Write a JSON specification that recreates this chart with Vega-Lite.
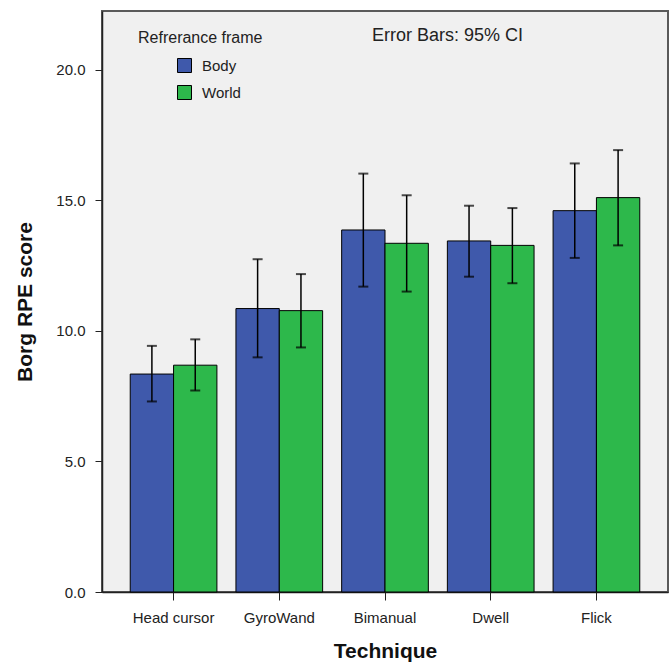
{
  "$schema": "https://vega.github.io/schema/vega-lite/v6.json",
  "width": 566,
  "height": 581,
  "autosize": "none",
  "padding": {"left": 102, "top": 11, "right": 3, "bottom": 71},
  "background": "white",
  "config": {
    "font": "Liberation Sans",
    "view": {"fill": "#f0f0f0", "stroke": "#5a5a5a", "strokeWidth": 2}
  },
  "title": {
    "text": "Error Bars: 95% CI",
    "orient": "top",
    "anchor": "start",
    "frame": "group",
    "dx": 270,
    "dy": 38,
    "fontSize": 18,
    "fontWeight": "normal",
    "color": "#222",
    "font": "Liberation Sans"
  },
  "data": {
    "values": [
      {"technique": "Head cursor", "frame": "Body", "mean": 8.35, "lo": 7.3, "hi": 9.43},
      {"technique": "Head cursor", "frame": "World", "mean": 8.69, "lo": 7.72, "hi": 9.68},
      {"technique": "GyroWand", "frame": "Body", "mean": 10.86, "lo": 8.99, "hi": 12.75},
      {"technique": "GyroWand", "frame": "World", "mean": 10.78, "lo": 9.37, "hi": 12.18},
      {"technique": "Bimanual", "frame": "Body", "mean": 13.87, "lo": 11.7, "hi": 16.03},
      {"technique": "Bimanual", "frame": "World", "mean": 13.36, "lo": 11.51, "hi": 15.2},
      {"technique": "Dwell", "frame": "Body", "mean": 13.45, "lo": 12.08, "hi": 14.8},
      {"technique": "Dwell", "frame": "World", "mean": 13.28, "lo": 11.83, "hi": 14.71},
      {"technique": "Flick", "frame": "Body", "mean": 14.61, "lo": 12.8, "hi": 16.42},
      {"technique": "Flick", "frame": "World", "mean": 15.11, "lo": 13.28, "hi": 16.93}
    ]
  },
  "encoding": {
    "x": {
      "field": "technique",
      "type": "nominal",
      "sort": ["Head cursor", "GyroWand", "Bimanual", "Dwell", "Flick"],
      "scale": {"paddingInner": 0.18, "paddingOuter": 0.267},
      "axis": {
        "title": "Technique",
        "labelAngle": 0,
        "tickSize": 8,
        "tickColor": "#222",
        "domainColor": "#222",
        "domainWidth": 1.5,
        "labelPadding": 10,
        "labelFontSize": 15,
        "labelColor": "#222",
        "titleFontSize": 21,
        "titleFontWeight": "bold",
        "titleColor": "#111",
        "titlePadding": 15
      }
    },
    "xOffset": {
      "field": "frame",
      "type": "nominal",
      "sort": ["Body", "World"],
      "scale": {"paddingInner": 0, "paddingOuter": 0}
    }
  },
  "layer": [
    {
      "mark": {"type": "bar", "stroke": "black", "strokeWidth": 1},
      "encoding": {
        "y": {
          "field": "mean",
          "type": "quantitative",
          "title": "Borg RPE score",
          "scale": {"domain": [0, 22.26], "nice": false, "zero": true},
          "axis": {
            "values": [0, 5, 10, 15, 20],
            "format": ".1f",
            "grid": false,
            "tickSize": 7,
            "tickColor": "#222",
            "domainColor": "#222",
            "domainWidth": 1.5,
            "labelFontSize": 15,
            "labelColor": "#222",
            "labelPadding": 10,
            "titleFontSize": 21,
            "titleFontWeight": "bold",
            "titleColor": "#111",
            "titlePadding": 20
          }
        },
        "color": {
          "field": "frame",
          "type": "nominal",
          "scale": {"domain": ["Body", "World"], "range": ["#3F59AB", "#2DB84B"]},
          "legend": {
            "title": "Refrerance frame",
            "orient": "none",
            "legendX": 36,
            "legendY": 19,
            "symbolType": "square",
            "symbolSize": 196,
            "symbolStrokeColor": "black",
            "symbolStrokeWidth": 1,
            "symbolOffset": 39,
            "labelOffset": 10,
            "rowPadding": 8,
            "titlePadding": 12,
            "titleFontSize": 16,
            "titleFontWeight": "normal",
            "titleColor": "#222",
            "labelFontSize": 15,
            "labelColor": "#222"
          }
        }
      }
    },
    {
      "mark": {"type": "rule", "color": "black", "strokeWidth": 1.5},
      "encoding": {
        "y": {"field": "lo", "type": "quantitative", "title": "Borg RPE score"},
        "y2": {"field": "hi"}
      }
    },
    {
      "mark": {"type": "tick", "orient": "horizontal", "size": 10, "thickness": 2, "color": "black"},
      "encoding": {
        "y": {"field": "lo", "type": "quantitative", "title": "Borg RPE score"}
      }
    },
    {
      "mark": {"type": "tick", "orient": "horizontal", "size": 10, "thickness": 2, "color": "black"},
      "encoding": {
        "y": {"field": "hi", "type": "quantitative", "title": "Borg RPE score"}
      }
    }
  ]
}
